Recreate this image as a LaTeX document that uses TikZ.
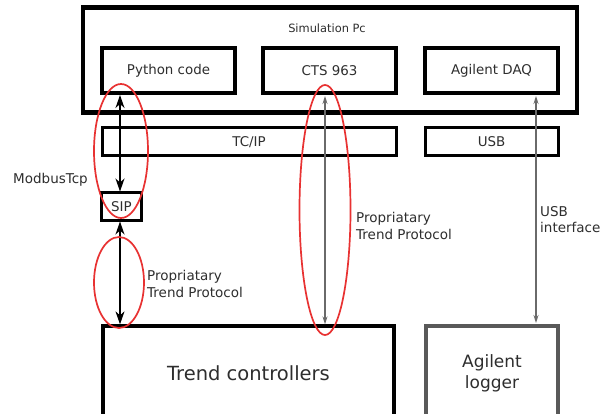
\documentclass[tikz,border=0pt]{standalone}
\usepackage{fontspec}
\setmainfont{DejaVu Sans}
\usetikzlibrary{arrows.meta}
\definecolor{txt}{HTML}{2E2E2E}
\definecolor{garrow}{HTML}{6A6A6A}
\definecolor{ered}{HTML}{E83232}
\begin{document}
\begin{tikzpicture}[x=1pt,y=-1pt,
  box/.style={draw=black,line width=3.3pt,inner sep=0pt,text=txt,font=\fontsize{13.4}{15}\selectfont},
  thinbox/.style={draw=black,line width=3pt,inner sep=0pt,text=txt,font=\fontsize{13.4}{15}\selectfont},
  lbl/.style={text=txt,font=\fontsize{13.5}{17}\selectfont,align=left,inner sep=0pt},
  blackarr/.style={draw=black,line width=1.2pt,{Stealth[length=13pt,width=9pt,inset=4pt]}-{Stealth[length=13pt,width=9pt,inset=4pt]}},
  grayarr/.style={draw=garrow,line width=1.1pt,{Stealth[length=8pt,width=5pt]}-{Stealth[length=8pt,width=5pt]}},
  redell/.style={draw=ered,line width=1.7pt}]
\useasboundingbox[fill=white] (0,0) rectangle (602,414);
% outer box
\node[box,line width=4.2pt,minimum width=494pt,minimum height=105pt] (pc) at (330,60) {};
\node[text=txt,font=\fontsize{11.4}{12}\selectfont,inner sep=0pt,anchor=base] (pclbl) at (327,33) {Simulation Pc};
\node[box,minimum width=133pt,minimum height=45pt] (py) at (168.5,70.5) {Python code};
\node[box,minimum width=133pt,minimum height=45pt] (cts) at (329.5,70.5) {CTS 963};
\node[box,minimum width=133pt,minimum height=45pt] (daq) at (491.5,70.5) {Agilent DAQ};
\node[thinbox,minimum width=294pt,minimum height=28pt] (tcip) at (249,142) {TC/IP};
\node[thinbox,minimum width=133pt,minimum height=28pt] (usb) at (491.5,142) {USB};
\node[thinbox,minimum width=40pt,minimum height=27pt] (sip) at (121.5,206.5) {SIP};
\node[box,minimum width=291pt,minimum height=95pt,font=\fontsize{19.5}{22}\selectfont] (trend) at (248.5,373.5) {Trend controllers};
\node[box,draw=black!65,minimum width=132pt,minimum height=95pt,align=center,font=\fontsize{17}{21}\selectfont] (logger) at (492,373.5) {Agilent\\logger};
% labels
\node[lbl,anchor=base west] (modbus) at (13,184) {ModbusTcp};
\node[lbl,anchor=base west] (prop1) at (147,297) {Propriatary\\Trend Protocol};
\node[lbl,anchor=base west] (prop2) at (356,239) {Propriatary\\Trend Protocol};
\node[lbl,anchor=base west] (usbif) at (540,233) {USB\\interface};
% coordinates
\coordinate (a1t) at (120,95);
\coordinate (a3t) at (325,96);
\coordinate (a4t) at (536,96);
\coordinate (a4b) at (536,323);
% arrows
\draw[blackarr] (a1t) -- (a1t |- sip.north);
\draw[blackarr] (sip.south -| a1t) -- (a1t |- trend.north);
\draw[grayarr] (a3t) -- (a3t |- trend.north);
\draw[grayarr] (a4t) -- (a4b);
% red ellipses
\draw[redell] (121,151) ellipse [x radius=27, y radius=67];
\draw[redell] (119,282.5) ellipse [x radius=25, y radius=45.5];
\draw[redell] (325,210) ellipse [x radius=25.5, y radius=125];
\end{tikzpicture}
\end{document}
